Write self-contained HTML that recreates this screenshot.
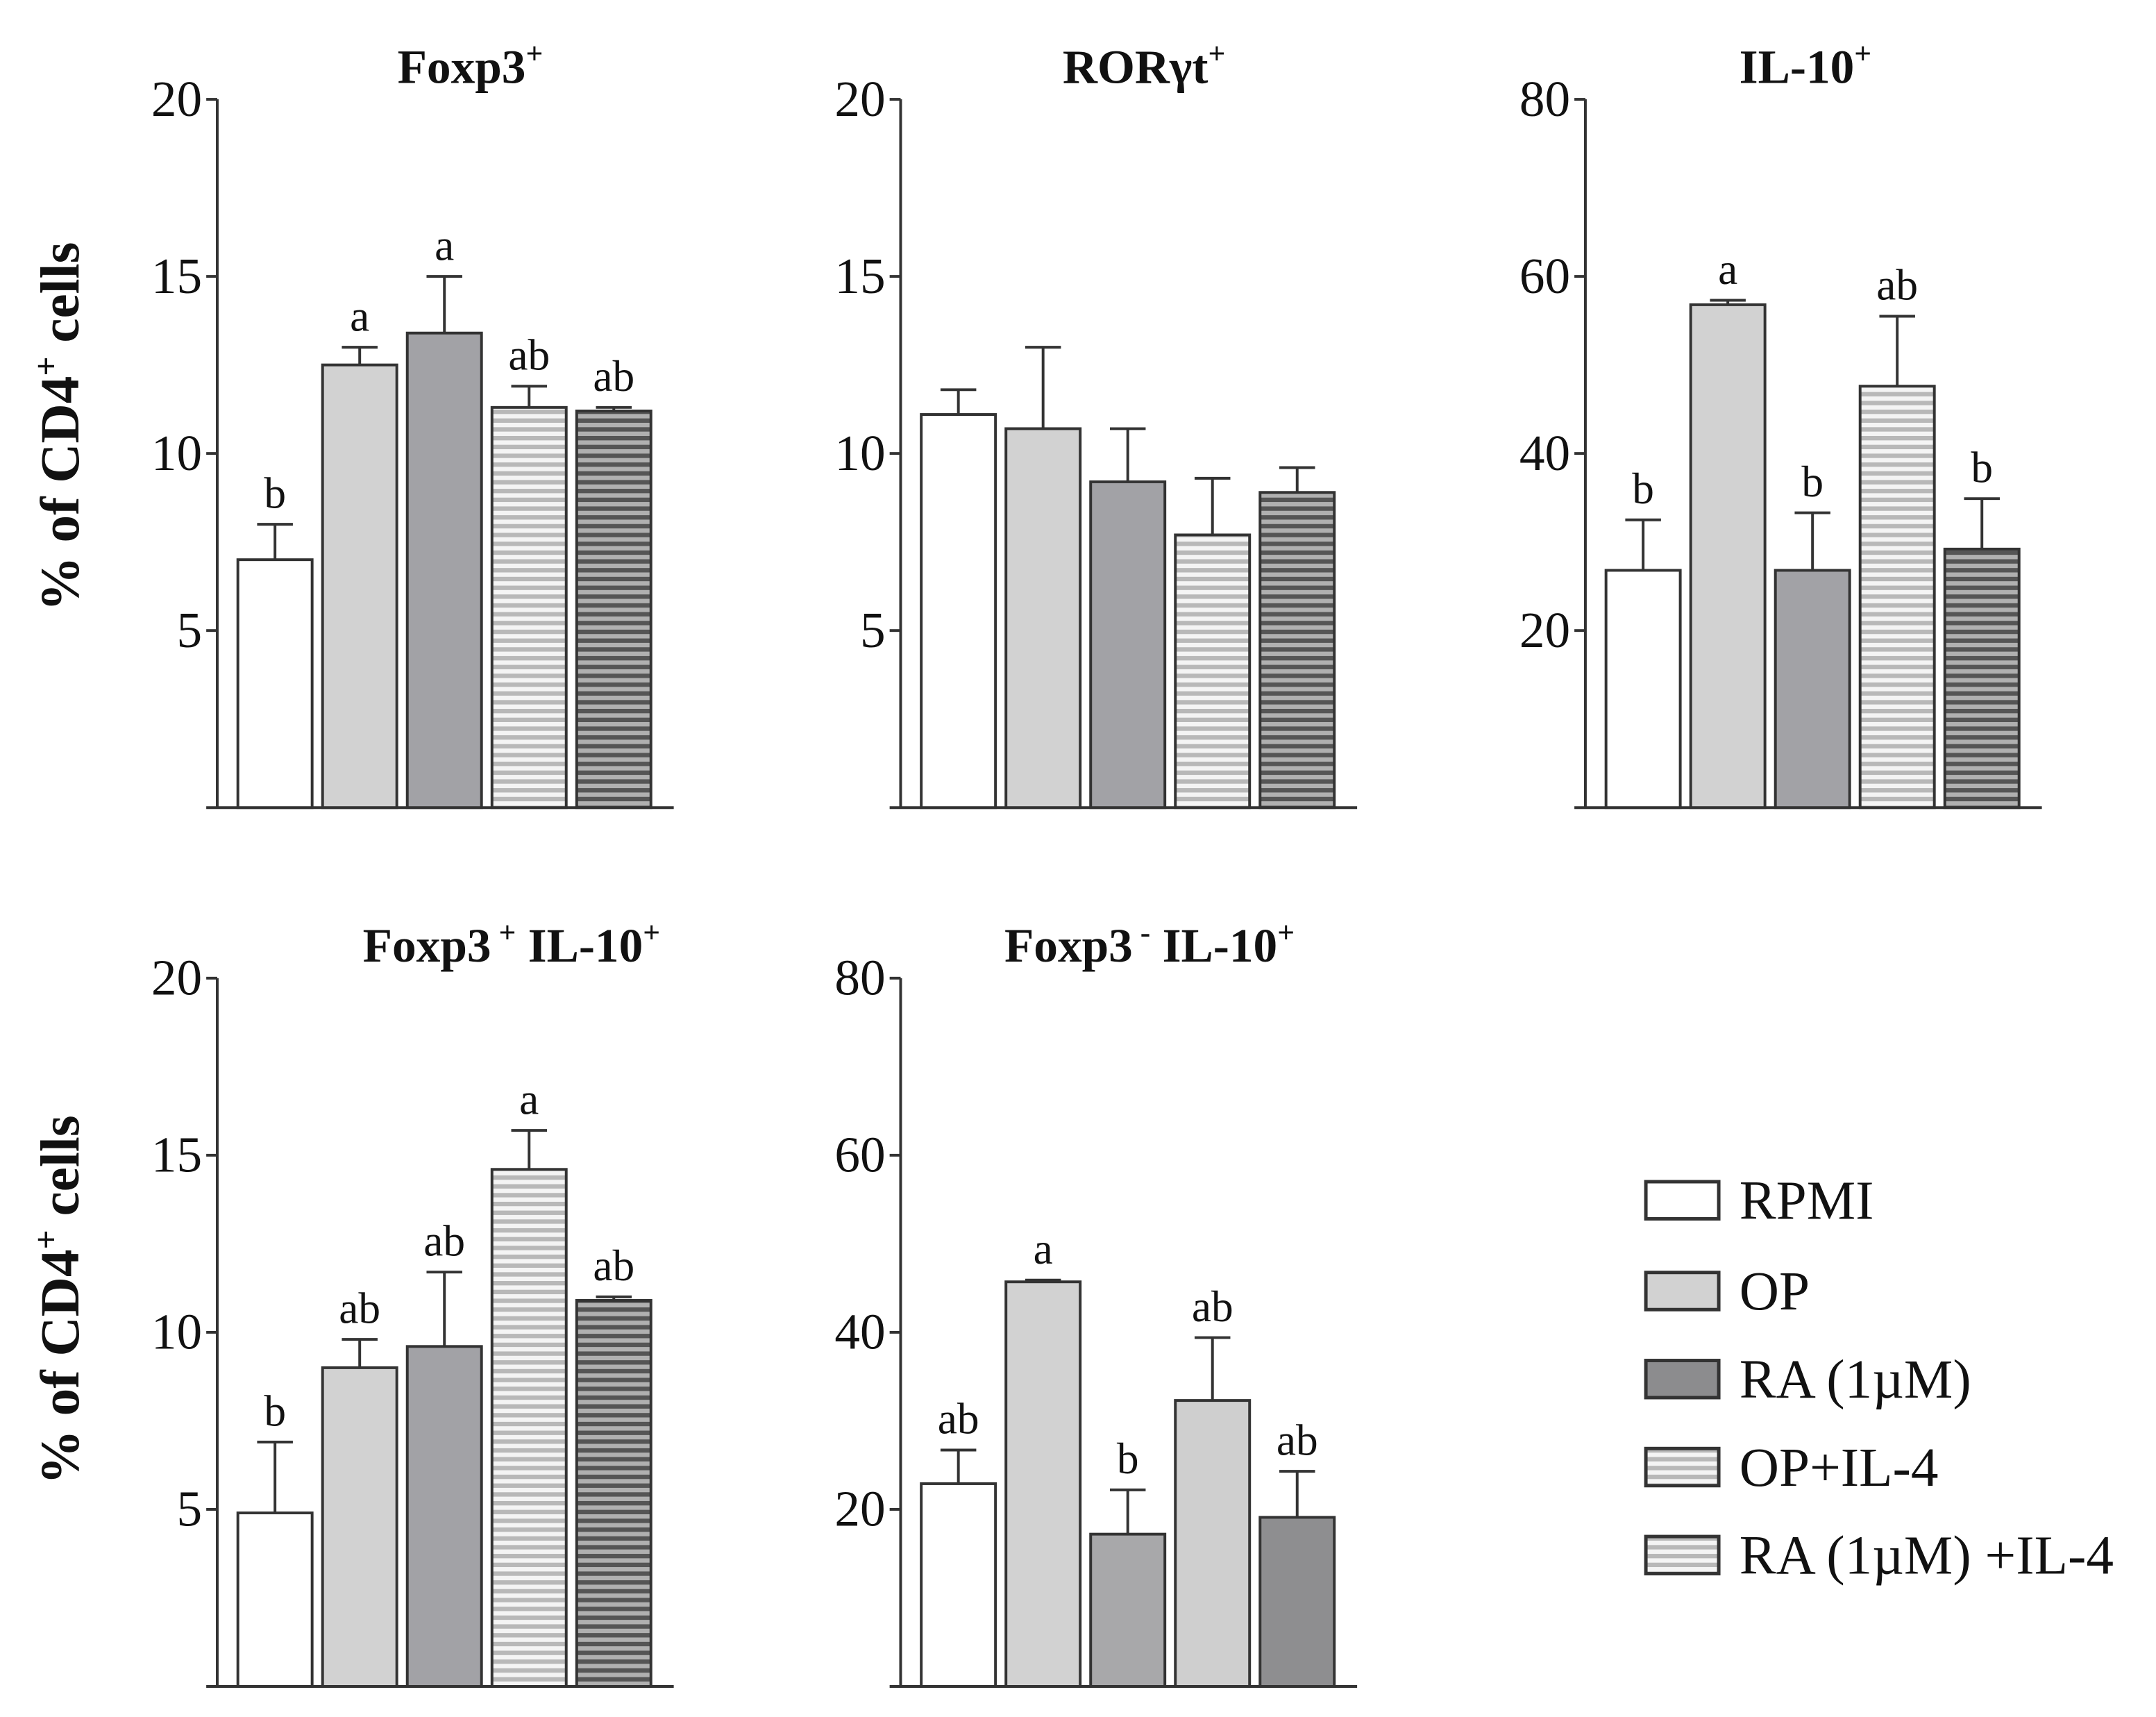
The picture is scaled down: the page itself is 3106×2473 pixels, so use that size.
<!DOCTYPE html>
<html><head><meta charset="utf-8"><style>
html,body{margin:0;padding:0;background:#fff}
svg{display:block}
text{font-family:"Liberation Serif",serif;fill:#111}
</style></head><body>
<svg id="fig" width="3106" height="2473" viewBox="0 0 1568 1248" xmlns="http://www.w3.org/2000/svg">
<defs>
<pattern id="stripeLight" patternUnits="userSpaceOnUse" width="8" height="6.4"><rect width="8" height="6.4" fill="#f4f4f4"/><rect y="3.2" width="8" height="3.2" fill="#b8b8b8"/></pattern>
<pattern id="stripeDark" patternUnits="userSpaceOnUse" width="8" height="6.4"><rect width="8" height="6.4" fill="#b0b0b0"/><rect y="3.2" width="8" height="3.2" fill="#555"/></pattern>
</defs>
</svg>
<script>
const groups = ["RPMI","OP","RA (1\u00b5M)","OP+IL-4","RA (1\u00b5M) +IL-4"];
const foxp3Values = [7.0,12.5,13.4,11.3,11.2];
const foxp3Errors = [8.0,13.0,15.0,11.9,11.3];
const foxp3Letters = ["b","a","a","ab","ab"];
const rorValues = [11.1,10.7,9.2,7.7,8.9];
const rorErrors = [11.8,13.0,10.7,9.3,9.6];
const rorLetters = ["","","","",""];
const il10Values = [26.8,56.8,26.8,47.6,29.2];
const il10Errors = [32.5,57.3,33.3,55.5,34.9];
const il10Letters = ["b","a","b","ab","b"];
const dpValues = [4.9,9.0,9.6,14.6,10.9];
const dpErrors = [6.9,9.8,11.7,15.7,11.0];
const dpLetters = ["b","ab","ab","a","ab"];
const fnValues = [22.9,45.7,17.2,32.3,19.1];
const fnErrors = [26.7,45.9,22.2,39.4,24.3];
const fnLetters = ["ab","a","b","ab","ab"];
const ticks20 = [5,10,15,20];
const ticks80 = [20,40,60,80];

const NS="http://www.w3.org/2000/svg";
const svg=document.getElementById('fig');
function mk(tag,attrs,parent){const e=document.createElementNS(NS,tag);for(const k in attrs)e.setAttribute(k,attrs[k]);(parent||svg).appendChild(e);return e;}
const fills=["#ffffff","#d2d2d2","#a2a2a6","url(#stripeLight)","url(#stripeDark)"];
const fills5=["#ffffff","#d2d2d2","#a8a8aa","#cfcfcf","#8e8e90"];

function panel(cfg){
  const g=mk('g',{});
  
  
  const x0=cfg.ax, yTop=cfg.top, yBot=cfg.top+515;
  const yScale=v=>yBot-(v/cfg.max)*(yBot-yTop);
  const bx=i=>x0+15+i*61.6;
  const bw=54;
  const ya=mk('line',{x1:x0,y1:yTop,x2:x0,y2:yBot,stroke:'#333','stroke-width':2},g);
  
  
  const xa=mk('line',{x1:x0-8,y1:yBot,x2:x0+332,y2:yBot,stroke:'#333','stroke-width':2},g);
  
  
  cfg.ticks.forEach(t=>{
    const y=yScale(t);
    mk('line',{x1:x0-8,y1:y,x2:x0,y2:y,stroke:'#333','stroke-width':2},g);
    const tl=mk('text',{x:x0-11,y:y+12,'text-anchor':'end','font-size':37},g);
    tl.textContent=t;
    
    
  });
  cfg.values.forEach((v,i)=>{
    const x=bx(i), y=yScale(v), ye=yScale(cfg.errors[i]), cx=x+bw/2;
    const el=mk('line',{x1:cx,y1:y,x2:cx,y2:ye,stroke:'#333','stroke-width':2},g);
    
    
    mk('line',{x1:cx-13,y1:ye,x2:cx+13,y2:ye,stroke:'#333','stroke-width':2},g);
    const r=mk('rect',{x:x,y:y,width:bw,height:yBot-y,fill:cfg.fills[i],stroke:'#333','stroke-width':2},g);
    
    
    if(cfg.letters[i]){
      const lt=mk('text',{x:cx,y:ye-12,'text-anchor':'middle','font-size':32},g);
      lt.textContent=cfg.letters[i];
      
      
    }
  });
  const tt=mk('text',{x:cfg.titleX,y:cfg.top-12,'text-anchor':'middle','font-size':35,'font-weight':'bold'},g);
  tt.innerHTML=cfg.title;
  
  
}
panel({name:'panel-foxp3',ax:158,top:72,max:20,ticks:ticks20,values:foxp3Values,errors:foxp3Errors,letters:foxp3Letters,fills:fills,titleX:342,title:'Foxp3<tspan dy="-14" font-size="22">+</tspan>'});
panel({name:'panel-rorgt',ax:655,top:72,max:20,ticks:ticks20,values:rorValues,errors:rorErrors,letters:rorLetters,fills:fills,titleX:832,title:'ROR\u03b3t<tspan dy="-14" font-size="22">+</tspan>'});
panel({name:'panel-il10',ax:1153,top:72,max:80,ticks:ticks80,values:il10Values,errors:il10Errors,letters:il10Letters,fills:fills,titleX:1313,title:'IL-10<tspan dy="-14" font-size="22">+</tspan>'});
panel({name:'panel-foxp3pos-il10',ax:158,top:711,max:20,ticks:ticks20,values:dpValues,errors:dpErrors,letters:dpLetters,fills:fills,titleX:372,title:'Foxp3<tspan dy="-14" font-size="22"> +</tspan><tspan dy="14"> IL-10</tspan><tspan dy="-14" font-size="22">+</tspan>'});
panel({name:'panel-foxp3neg-il10',ax:655,top:711,max:80,ticks:ticks80,values:fnValues,errors:fnErrors,letters:fnLetters,fills:fills5,titleX:836,title:'Foxp3<tspan dy="-14" font-size="22"> -</tspan><tspan dy="14"> IL-10</tspan><tspan dy="-14" font-size="22">+</tspan>'});

[310,945].forEach(cy=>{
  const t=mk('text',{x:0,y:0,'text-anchor':'middle','font-size':40,'font-weight':'bold',transform:`translate(57,${cy}) rotate(-90)`});
  t.innerHTML='% of CD4<tspan dy="-15" font-size="25">+</tspan><tspan dy="15"> cells</tspan>';
  
  
});

const legRows=[872,938,1002,1066,1130];
const legFills=["#ffffff","#d2d2d2","#8c8c8e","url(#stripeLight)","url(#stripeLight)"];
groups.forEach((gname,i)=>{
  const cy=legRows[i];
  const r=mk('rect',{x:1197,y:cy-13,width:53,height:27,fill:legFills[i],stroke:'#333','stroke-width':2.5});
  
  
  const t=mk('text',{x:1265,y:cy+14,'font-size':40});
  t.textContent=gname;
  
  
});
</script>
</body></html>
